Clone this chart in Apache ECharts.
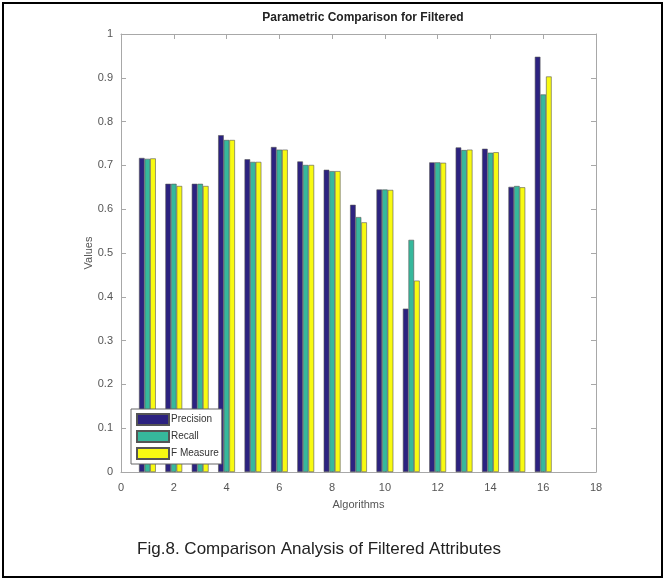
<!DOCTYPE html>
<html>
<head>
    <meta charset="utf-8">
    <title>Parametric Comparison for Filtered</title>
    <script src="https://cdn.jsdelivr.net/npm/echarts@6/dist/echarts.min.js"></script>
    <style>
        html, body { margin: 0; padding: 0; background: #fff; }
    </style>
</head>
<body>
    <div id="main" style="width: 665px;height:578px;"></div>
</body>
<script type="text/javascript">
    // algorithm numbers on the x axis
    var algorithms = [1, 2, 3, 4, 5, 6, 7, 8, 9, 10, 11, 12, 13, 14, 15, 16];
    var precision = [0.717, 0.658, 0.658, 0.769, 0.714, 0.742, 0.709, 0.690, 0.610, 0.645, 0.373, 0.707, 0.741, 0.738, 0.651, 0.948];
    var recall    = [0.715, 0.658, 0.658, 0.758, 0.708, 0.736, 0.701, 0.687, 0.582, 0.645, 0.530, 0.707, 0.735, 0.729, 0.653, 0.862];
    var fMeasure  = [0.716, 0.653, 0.653, 0.758, 0.708, 0.736, 0.701, 0.687, 0.570, 0.644, 0.437, 0.706, 0.736, 0.730, 0.650, 0.903];
    var seriesNames = ['Precision', 'Recall', 'F Measure'];
    var seriesColors = ['#2c2280', '#36b89c', '#f8fa12'];

    function pairs(vals) {
        return algorithms.map(function(a, i) {
            return [a, vals[i]];
        });
    }

    var axisGray = '#a8a8a8';
    var labelGray = '#555';

    var series = [precision, recall, fMeasure].map(function(vals, i) {
        return {
            name: seriesNames[i],
            type: 'bar',
            barWidth: 5.6,
            barGap: '0%',
            itemStyle: {
                color: seriesColors[i],
                borderColor: '#555',
                borderWidth: 0.6
            },
            data: pairs(vals)
        };
    });

    var chart = echarts.init(document.getElementById('main'));
    chart.setOption({
        backgroundColor: '#fff',
        animation: false,
        textStyle: { fontFamily: 'Liberation Sans, Arial, sans-serif' },
        title: [{
            text: 'Parametric Comparison for Filtered',
            left: 358,
            top: 7,
            textAlign: 'center',
            textStyle: { fontSize: 12, fontWeight: 'bold', color: '#222' }
        }, {
            text: 'Fig.8. Comparison Analysis of Filtered Attributes',
            left: 314,
            top: 536,
            textAlign: 'center',
            textStyle: { fontSize: 17, fontWeight: 'normal', color: '#222' }
        }],
        legend: {
            data: seriesNames,
            orient: 'vertical',
            left: 131,
            top: 409,
            itemWidth: 32,
            itemHeight: 11,
            itemGap: 4,
            padding: [4, 3, 4, 5],
            backgroundColor: '#fff',
            borderColor: '#666',
            borderWidth: 1,
            icon: 'rect',
            textStyle: { fontSize: 10, color: '#333', padding: [0, 0, 0, -3] }
        },
        grid: {
            left: 121,
            top: 34,
            width: 475,
            height: 438,
            containLabel: false
        },
        graphic: [{
            type: 'rect',
            shape: { x: 3, y: 3, width: 659, height: 574 },
            style: { fill: 'none', stroke: '#000', lineWidth: 2 },
            silent: true
        }],
        xAxis: [{
            type: 'value',
            min: 0,
            max: 18,
            interval: 2,
            name: 'Algorithms',
            nameLocation: 'middle',
            nameGap: 27,
            nameMoveOverlap: false,
            nameTextStyle: { fontSize: 11, color: labelGray },
            axisLine: { onZero: false, lineStyle: { color: axisGray } },
            axisTick: { inside: true, length: 5, lineStyle: { color: axisGray } },
            axisLabel: { fontSize: 11, color: labelGray, margin: 10 },
            splitLine: { show: false }
        }, {
            type: 'value',
            position: 'top',
            min: 0,
            max: 18,
            interval: 2,
            axisLine: { show: true, onZero: false, lineStyle: { color: axisGray } },
            axisTick: { inside: true, length: 5, lineStyle: { color: axisGray } },
            axisLabel: { show: false },
            splitLine: { show: false }
        }],
        yAxis: [{
            type: 'value',
            min: 0,
            max: 1,
            interval: 0.1,
            name: 'Values',
            nameLocation: 'middle',
            nameGap: 27,
            nameMoveOverlap: false,
            nameRotate: 90,
            nameTextStyle: { fontSize: 11, color: labelGray },
            axisLine: { show: true, onZero: false, lineStyle: { color: axisGray } },
            axisTick: { show: true, inside: true, length: 5, lineStyle: { color: axisGray } },
            axisLabel: { fontSize: 11, color: labelGray, margin: 8 },
            splitLine: { show: false }
        }, {
            type: 'value',
            position: 'right',
            min: 0,
            max: 1,
            interval: 0.1,
            axisLine: { show: true, onZero: false, lineStyle: { color: axisGray } },
            axisTick: { show: true, inside: true, length: 5, lineStyle: { color: axisGray } },
            axisLabel: { show: false },
            splitLine: { show: false }
        }],
        series: series
    });
</script>
</html>
